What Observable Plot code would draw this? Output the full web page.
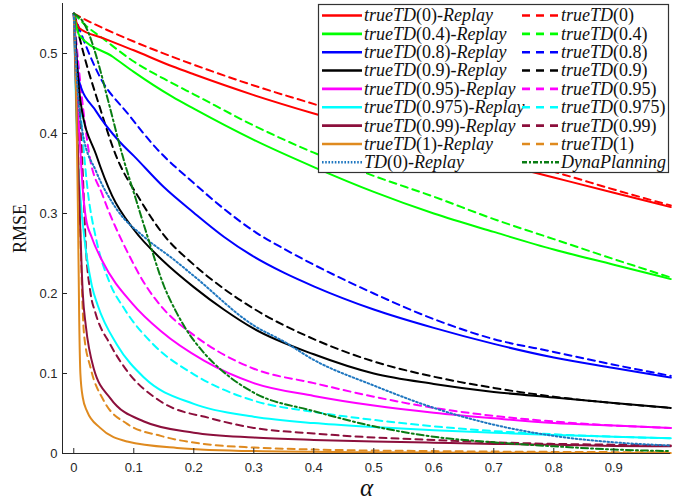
<!DOCTYPE html>
<html><head><meta charset="utf-8">
<script src="https://cdn.jsdelivr.net/npm/d3@7"></script>
<script src="https://cdn.jsdelivr.net/npm/@observablehq/plot@0.6"></script>
<style>body{margin:0;background:#fff;}</style>
</head><body><div id="chart"></div>
<script>
// ---- tick labels ----
const xTicks = [0, 0.1, 0.2, 0.3, 0.4, 0.5, 0.6, 0.7, 0.8, 0.9];
const yTicks = [0, 0.1, 0.2, 0.3, 0.4, 0.5];

// ---- series values: [alpha, RMSE] ----
const trueTD0Replay = [[0,0.55],[0.009,0.532],[0.05,0.519],[0.1,0.504],[0.164,0.484],[0.2,0.474],[0.3,0.448],[0.4,0.425],[0.5,0.404],[0.6,0.384],[0.7,0.364],[0.8,0.345],[0.9,0.326],[0.995,0.308]];
const trueTD0 = [[0,0.55],[0.02,0.542],[0.048,0.532],[0.1,0.515],[0.164,0.496],[0.2,0.486],[0.3,0.46],[0.408,0.435],[0.5,0.413],[0.6,0.391],[0.7,0.37],[0.8,0.352],[0.9,0.33],[0.995,0.31]];
const trueTD04Replay = [[0,0.55],[0.009,0.523],[0.065,0.496],[0.1,0.477],[0.164,0.446],[0.2,0.431],[0.3,0.392],[0.4,0.358],[0.5,0.327],[0.6,0.3],[0.7,0.277],[0.8,0.255],[0.9,0.236],[0.995,0.218]];
const trueTD04 = [[0,0.55],[0.02,0.535],[0.048,0.519],[0.1,0.49],[0.164,0.463],[0.2,0.449],[0.3,0.41],[0.4,0.376],[0.5,0.347],[0.6,0.321],[0.7,0.293],[0.8,0.268],[0.9,0.243],[0.995,0.22]];
const trueTD08Replay = [[0,0.55],[0.004,0.5],[0.009,0.465],[0.037,0.428],[0.076,0.39],[0.1,0.372],[0.15,0.333],[0.2,0.301],[0.25,0.271],[0.3,0.246],[0.35,0.226],[0.4,0.209],[0.5,0.18],[0.6,0.157],[0.7,0.137],[0.8,0.12],[0.9,0.107],[0.995,0.095]];
const trueTD08 = [[0,0.55],[0.02,0.51],[0.042,0.473],[0.092,0.423],[0.137,0.382],[0.2,0.338],[0.25,0.306],[0.3,0.278],[0.35,0.256],[0.4,0.236],[0.5,0.2],[0.6,0.168],[0.7,0.143],[0.8,0.127],[0.9,0.111],[0.995,0.097]];
const trueTD09Replay = [[0,0.55],[0.005,0.49],[0.012,0.436],[0.037,0.374],[0.064,0.322],[0.1,0.28],[0.15,0.24],[0.2,0.208],[0.25,0.18],[0.3,0.156],[0.4,0.124],[0.5,0.1],[0.6,0.087],[0.7,0.077],[0.8,0.07],[0.9,0.063],[0.995,0.057]];
const trueTD09 = [[0,0.55],[0.017,0.498],[0.042,0.436],[0.07,0.373],[0.109,0.319],[0.148,0.275],[0.2,0.236],[0.25,0.206],[0.3,0.181],[0.4,0.143],[0.5,0.115],[0.6,0.096],[0.7,0.082],[0.8,0.071],[0.9,0.063],[0.995,0.057]];
const trueTD095Replay = [[0,0.55],[0.005,0.45],[0.01,0.39],[0.015,0.33],[0.02,0.295],[0.03,0.27],[0.048,0.24],[0.098,0.187],[0.145,0.153],[0.217,0.116],[0.3,0.088],[0.4,0.072],[0.5,0.06],[0.6,0.051],[0.7,0.044],[0.8,0.038],[0.9,0.035],[0.995,0.032]];
const trueTD095 = [[0,0.55],[0.01,0.47],[0.026,0.373],[0.048,0.323],[0.092,0.248],[0.12,0.21],[0.148,0.182],[0.2,0.148],[0.3,0.106],[0.4,0.088],[0.5,0.071],[0.6,0.057],[0.7,0.047],[0.8,0.04],[0.9,0.035],[0.995,0.032]];
const trueTD0975Replay = [[0,0.55],[0.005,0.4],[0.01,0.33],[0.02,0.255],[0.03,0.21],[0.04,0.185],[0.072,0.136],[0.117,0.095],[0.2,0.062],[0.3,0.046],[0.4,0.038],[0.5,0.033],[0.6,0.029],[0.7,0.026],[0.8,0.023],[0.9,0.021],[0.995,0.019]];
const trueTD0975 = [[0,0.55],[0.01,0.44],[0.023,0.33],[0.037,0.269],[0.059,0.215],[0.085,0.18],[0.133,0.136],[0.2,0.099],[0.3,0.066],[0.4,0.052],[0.5,0.042],[0.6,0.034],[0.7,0.028],[0.8,0.024],[0.9,0.021],[0.995,0.019]];
const trueTD099Replay = [[0,0.55],[0.005,0.42],[0.01,0.3],[0.015,0.2],[0.02,0.16],[0.033,0.107],[0.061,0.069],[0.117,0.04],[0.2,0.026],[0.3,0.02],[0.4,0.017],[0.5,0.015],[0.6,0.0135],[0.7,0.012],[0.8,0.011],[0.9,0.0095],[0.995,0.009]];
const trueTD099 = [[0,0.55],[0.008,0.45],[0.015,0.35],[0.02,0.26],[0.028,0.2],[0.036,0.176],[0.061,0.136],[0.089,0.103],[0.145,0.065],[0.228,0.044],[0.3,0.032],[0.4,0.025],[0.5,0.02],[0.6,0.017],[0.7,0.014],[0.8,0.012],[0.9,0.011],[0.995,0.01]];
const trueTD1Replay = [[0,0.55],[0.004,0.45],[0.007,0.3],[0.009,0.17],[0.011,0.1],[0.015,0.07],[0.022,0.053],[0.044,0.032],[0.089,0.015],[0.172,0.007],[0.3,0.003],[0.5,0.0015],[0.7,0.001],[0.995,0.0005]];
const trueTD1 = [[0,0.55],[0.005,0.45],[0.01,0.3],[0.017,0.15],[0.028,0.107],[0.05,0.066],[0.089,0.037],[0.145,0.022],[0.228,0.011],[0.3,0.0075],[0.4,0.005],[0.6,0.003],[0.8,0.002],[0.995,0.0015]];
const td0Replay = [[0,0.55],[0.005,0.47],[0.015,0.4],[0.037,0.353],[0.07,0.307],[0.12,0.269],[0.164,0.244],[0.2,0.222],[0.3,0.16],[0.35,0.14],[0.4,0.117],[0.5,0.085],[0.6,0.057],[0.7,0.036],[0.8,0.022],[0.9,0.014],[0.995,0.01]];
const dynaPlanning = [[0,0.55],[0.015,0.54],[0.025,0.525],[0.037,0.498],[0.059,0.436],[0.081,0.373],[0.103,0.319],[0.126,0.264],[0.15,0.21],[0.17,0.178],[0.19,0.152],[0.211,0.131],[0.256,0.098],[0.3,0.076],[0.4,0.053],[0.5,0.034],[0.6,0.021],[0.7,0.014],[0.8,0.009],[0.9,0.005],[0.995,0.003]];

// ---- legend labels ----
const labelsCol1 = ["trueTD(0)-Replay","trueTD(0.4)-Replay","trueTD(0.8)-Replay","trueTD(0.9)-Replay","trueTD(0.95)-Replay","trueTD(0.975)-Replay","trueTD(0.99)-Replay","trueTD(1)-Replay","TD(0)-Replay"];
const labelsCol2 = ["trueTD(0)","trueTD(0.4)","trueTD(0.8)","trueTD(0.9)","trueTD(0.95)","trueTD(0.975)","trueTD(0.99)","trueTD(1)","DynaPlanning"];

const C = {red:"#ff0000", green:"#00ff00", blue:"#0000ff", black:"#000000", magenta:"#ff00ff", cyan:"#00ffff", maroon:"#8c0f3c", orange:"#df8a1f", steel:"#1f77c0", dgreen:"#0a7d14"};
const DASH = "7,5", DOT = "1.6,2.4", DASHDOT = "7,3,2,3";

const col1 = [
  {label: labelsCol1[0], data: trueTD0Replay, color: C.red, dash: null},
  {label: labelsCol1[1], data: trueTD04Replay, color: C.green, dash: null},
  {label: labelsCol1[2], data: trueTD08Replay, color: C.blue, dash: null},
  {label: labelsCol1[3], data: trueTD09Replay, color: C.black, dash: null},
  {label: labelsCol1[4], data: trueTD095Replay, color: C.magenta, dash: null},
  {label: labelsCol1[5], data: trueTD0975Replay, color: C.cyan, dash: null},
  {label: labelsCol1[6], data: trueTD099Replay, color: C.maroon, dash: null},
  {label: labelsCol1[7], data: trueTD1Replay, color: C.orange, dash: null},
  {label: labelsCol1[8], data: td0Replay, color: C.steel, dash: DOT}
];
const col2 = [
  {label: labelsCol2[0], data: trueTD0, color: C.red, dash: DASH},
  {label: labelsCol2[1], data: trueTD04, color: C.green, dash: DASH},
  {label: labelsCol2[2], data: trueTD08, color: C.blue, dash: DASH},
  {label: labelsCol2[3], data: trueTD09, color: C.black, dash: DASH},
  {label: labelsCol2[4], data: trueTD095, color: C.magenta, dash: DASH},
  {label: labelsCol2[5], data: trueTD0975, color: C.cyan, dash: DASH},
  {label: labelsCol2[6], data: trueTD099, color: C.maroon, dash: DASH},
  {label: labelsCol2[7], data: trueTD1, color: C.orange, dash: DASH},
  {label: labelsCol2[8], data: dynaPlanning, color: C.dgreen, dash: DASHDOT}
];

const xDomain = [-0.0188, 0.9945];
const yDomain = [0, 0.5625];
const axisColor = "#262626";

const lineMarks = [...col2.slice(0,8), ...col1.slice(0,8), col1[8], col2[8]].map(s =>
  Plot.line(s.data, {x: d => d[0], y: d => d[1], stroke: s.color, strokeWidth: 2,
    strokeDasharray: s.dash, curve: "monotone-x"}));

const chart = Plot.plot({
  width: 691, height: 499,
  marginLeft: 62, marginRight: 21, marginTop: 3, marginBottom: 46,
  style: {fontFamily: "'Liberation Sans', Arial, sans-serif", fontSize: "13px", color: axisColor, background: "#fff"},
  x: {domain: xDomain},
  y: {domain: yDomain},
  marks: [
    ...lineMarks,
    Plot.ruleY([yDomain[0]], {stroke: axisColor, strokeWidth: 1}),
    Plot.ruleX([xDomain[0]], {stroke: axisColor, strokeWidth: 1}),
    Plot.axisX(xTicks, {tickSize: -5, tickPadding: 14, tickFormat: d => String(d), label: null, stroke: axisColor}),
    Plot.axisY(yTicks, {tickSize: -5, tickPadding: 10, tickFormat: d => String(d), label: null, stroke: axisColor}),
    Plot.text(["RMSE"], {frameAnchor: "left", dx: -42, rotate: -90, textAnchor: "middle", lineAnchor: "middle", fontFamily: "'Liberation Serif', serif", fontSize: 18, fill: "#111"}),
    Plot.text(["α"], {frameAnchor: "bottom", dy: 34, textAnchor: "middle", lineAnchor: "middle", fontFamily: "'Liberation Serif', serif", fontStyle: "italic", fontSize: 25, fill: "#111"})
  ]
});
document.getElementById("chart").appendChild(chart);

// ---- legend (inside the plot, top right) ----
const svg = d3.select(chart);
const lg = svg.append("g").attr("class", "legend").attr("text-anchor", "start");
lg.append("rect").attr("x", 318.5).attr("y", 4.5).attr("width", 350).attr("height", 168)
  .attr("fill", "#fff").attr("stroke", "#333").attr("stroke-width", 1.2);
const rowY = i => 15.5 + i * 18.35;
function addLabel(x, y, label) {
  const text = lg.append("text").attr("x", x).attr("y", y).attr("dy", "0.33em")
    .attr("text-anchor", "start")
    .attr("font-family", "'Liberation Serif', serif").attr("font-size", 18).attr("fill", "#111");
  label.split(/(\([^)]*\)|-)/).filter(s => s.length).forEach(part => {
    const upright = part.startsWith("(") || part === "-";
    text.append("tspan").attr("font-style", upright ? "normal" : "italic").text(part);
  });
}
[[col1, 322, 362, 364], [col2, 522, 559, 561]].forEach(([col, x1, x2, tx]) => {
  col.forEach((s, i) => {
    const y = rowY(i);
    lg.append("line").attr("x1", x1).attr("x2", x2).attr("y1", y).attr("y2", y)
      .attr("stroke", s.color).attr("stroke-width", 2.6)
      .attr("stroke-dasharray", s.dash === DASH ? "8,6" : s.dash === DOT ? "1.6,1.6" : s.dash === DASHDOT ? "5,2,2,2" : null);
    addLabel(tx, y, s.label);
  });
});
</script>
</body></html>
